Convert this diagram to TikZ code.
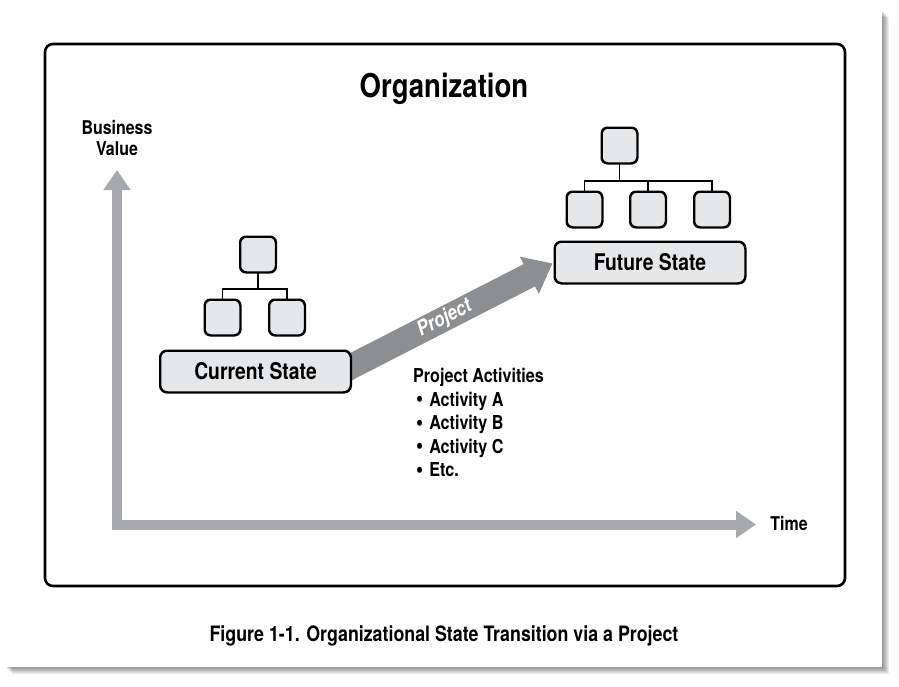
\documentclass[tikz,border=0pt]{standalone}
\usepackage{fontspec}
\setmainfont[FakeStretch=0.84]{TeX Gyre Heros}
\usetikzlibrary{arrows.meta,backgrounds}

\definecolor{axisgray}{HTML}{A7A9AC}
\definecolor{arrowgray}{HTML}{8C8E90}
\definecolor{boxfill}{HTML}{E6E7E8}
\definecolor{boxrim}{HTML}{B9BBBD}

\newcommand{\actbullet}{\hspace{3pt}\raisebox{-0.5pt}{\fontsize{24}{24}\selectfont\textbullet}\hspace{6pt}}

\tikzset{
  rimbox/.style={draw=black, fill=boxfill, line width=1.5pt, rounded corners=#1,
    append after command={
      \pgfextra{\draw[boxrim, line width=1.6pt, rounded corners=#1-2pt]
        ([shift={(2.2pt,-2.2pt)}]\tikzlastnode.north west) rectangle
        ([shift={(-2.2pt,2.2pt)}]\tikzlastnode.south east);
      \draw[black, line width=1.5pt, rounded corners=#1]
        (\tikzlastnode.north west) rectangle (\tikzlastnode.south east);}}},
  orgbox/.style={rimbox=6pt, minimum size=35pt, inner sep=0pt},
  statebox/.style={rimbox=7pt, minimum width=190pt, minimum height=41pt,
    inner sep=0pt, font=\fontsize{23}{26}\selectfont\bfseries},
  orgline/.style={line width=1.5pt},
  label/.style={font=\fontsize{19}{21}\selectfont\bfseries, inner sep=0pt}
}

\begin{document}
\begin{tikzpicture}[x=1pt,y=-1pt]
        \useasboundingbox (0,0) rectangle (899,686);

        \node[font=\fontsize{32.8}{36}\selectfont\bfseries] (title) at (444,89) {Organization};

        % axes
        \coordinate (valuetip) at (117,170);
        \coordinate (origin) at (117,524.5);
        \coordinate (timetip) at (756,524.5);
        \draw[axisgray, line width=10pt,
          {Triangle[width=26pt,length=20pt]}-{Triangle[width=26pt,length=20pt]}]
          (valuetip) -- (origin) -- (timetip);
        \node[label, align=center] (valuelabel) at (117,138) {Business\\Value};
        \node[label] (timelabel) at (789,523) {Time};

        % current state
        \node[statebox] (current) at (255.5,371.5) {Current State};
        \node[orgbox] (curtop) at (258,254.5) {};
        \node[orgbox] (curleft) at (222.5,317.5) {};
        \node[orgbox] (curright) at (287,317.5) {};
        \draw[orgline] (curtop.south) -- ++(0,16) coordinate (curfork);
        \draw[orgline] (curfork) -| (curleft.north);
        \draw[orgline] (curfork) -| (curright.north);

        % future state
        \node[statebox] (future) at (650,262.5) {Future State};
        \node[orgbox] (futtop) at (619.5,145.5) {};
        \foreach \n/\x in {futa/584.5,futb/648,futc/712} {
          \node[orgbox] (\n) at (\x,209.5) {};
        }
        \draw[orgline] (futtop.south) -- ++(0,17) coordinate (futfork);
        \foreach \n in {futa,futb,futc} {
          \draw[orgline] (futfork) -| (\n.north);
        }

        \begin{scope}[on background layer]
          % paper with its shadow
          \foreach \s in {1,...,7} {
            \fill[black, opacity=0.07] (5+\s,10+\s) rectangle (882+\s,667+\s);
          }
          \fill[white] (5,10) rectangle (882,667);
          \draw[line width=2.6pt, rounded corners=8pt] (45,44) rectangle (845,586);
          % project arrow
          \draw[arrowgray, line width=25pt, shorten <=-20pt, shorten >=2pt,
            -{Triangle[width=40pt,length=26pt]}]
            ([yshift=5pt]current.east) -- (future.west)
            node[pos=0.46, sloped, white, font=\fontsize{20.5}{22}\selectfont\bfseries\itshape] (projlabel) {Project};
        \end{scope}

        \node[anchor=north west, align=left, inner sep=0pt, font=\fontsize{19.2}{23.5}\selectfont\bfseries]
          (activities) at (413,368) {Project Activities\\
          \actbullet Activity A\\
          \actbullet Activity B\\
          \actbullet Activity C\\
          \actbullet Etc.};

        \node[font=\fontsize{21.2}{24}\selectfont\bfseries] (caption) at (444,636)
          {Figure 1-1. Organizational State Transition via a Project};
      \end{tikzpicture}
\end{document}
